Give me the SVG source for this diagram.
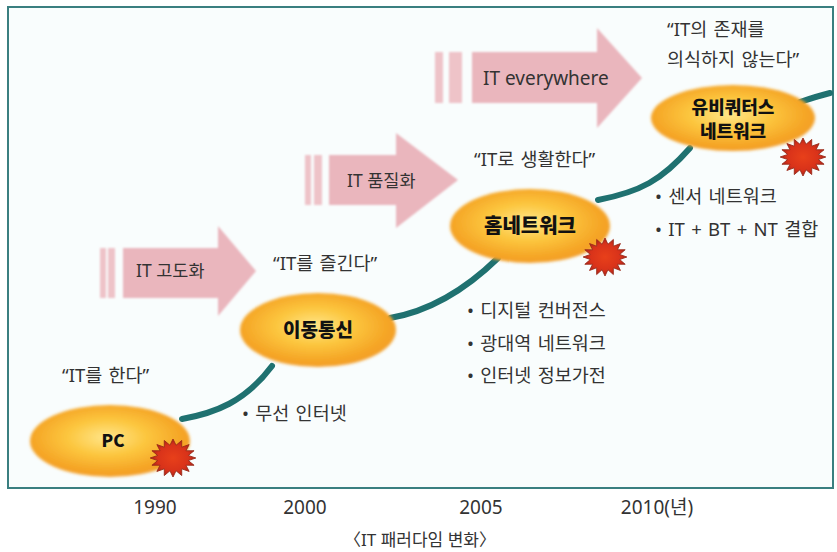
<svg xmlns="http://www.w3.org/2000/svg" width="837" height="552" viewBox="0 0 837 552">
<style>
.t{font-family:"Noto Sans","Noto Sans CJK KR",sans-serif;fill:#333;font-size:18.5px;word-spacing:1.5px}
.a{font-family:"Noto Sans","Noto Sans CJK KR",sans-serif;fill:#333;font-size:17.5px}
.b{font-family:"Noto Sans CJK KR",sans-serif;fill:#111;font-weight:900;text-anchor:middle}
.y{font-family:"Noto Sans","Noto Sans CJK KR",sans-serif;fill:#333;font-size:19px;text-anchor:middle}
.arr{fill:#eab6bd}
.bar{fill:#eec3c8}
.con{fill:none;stroke:#1f7170;stroke-width:6;stroke-linecap:round}
.node ellipse{fill:url(#og);filter:url(#soft)}
</style>
<defs>
<radialGradient id="og" cx="0.48" cy="0.45" r="0.55">
<stop offset="0" stop-color="#ffe68a"/>
<stop offset="0.45" stop-color="#fcc63e"/>
<stop offset="0.85" stop-color="#f5a526"/>
<stop offset="1" stop-color="#f39f2a"/>
</radialGradient>
<radialGradient id="sg" cx="0.5" cy="0.5" r="0.5">
<stop offset="0" stop-color="#e8401a"/>
<stop offset="0.7" stop-color="#d8321a"/>
<stop offset="1" stop-color="#a8201a"/>
</radialGradient>
<filter id="soft" x="-10%" y="-10%" width="120%" height="120%"><feGaussianBlur stdDeviation="1.4"/></filter>
<filter id="softa" x="-5%" y="-5%" width="110%" height="110%"><feGaussianBlur stdDeviation="1"/></filter>
<path id="star" d="M19,0 L12.75,2.54 L17.56,7.28 L10.8,7.23 L13.43,13.43 L7.23,10.8 L7.28,17.56 L2.54,12.75 L0,19 L-2.54,12.75 L-7.28,17.56 L-7.23,10.8 L-13.43,13.43 L-10.8,7.23 L-17.56,7.28 L-12.75,2.54 L-19,0 L-12.75,-2.54 L-17.56,-7.28 L-10.8,-7.23 L-13.43,-13.43 L-7.23,-10.8 L-7.28,-17.56 L-2.54,-12.75 L0,-19 L2.54,-12.75 L7.28,-17.56 L7.23,-10.8 L13.43,-13.43 L10.8,-7.23 L17.56,-7.28 L12.75,-2.54 Z" fill="url(#sg)" stroke="#9a2a18" stroke-width="0.8"/>
</defs>
<rect x="8" y="7" width="825" height="481" fill="#f9fdfd" stroke="#3a7f80" stroke-width="2"/>
<g id="arrows" filter="url(#softa)">
<g id="arrow1">
<rect class="bar" x="100" y="248" width="6" height="50"/>
<rect class="bar" x="108" y="248" width="7" height="50"/>
<polygon class="arr" points="123,248 218,248 218,226 256,271 218,316 218,298 123,298"/>
</g>
<g id="arrow2">
<rect class="bar" x="305" y="155" width="6" height="50"/>
<rect class="bar" x="314" y="155" width="8" height="50"/>
<polygon class="arr" points="329,155 396,155 396,133 458,180 396,228 396,205 329,205"/>
</g>
<g id="arrow3">
<rect class="bar" x="435" y="52" width="8" height="51"/>
<rect class="bar" x="449" y="52" width="13" height="51"/>
<polygon class="arr" points="472,52 597,52 597,28 642,78 597,128 597,103 472,103"/>
</g>
</g>
<text class="a" x="136" y="277">IT 고도화</text>
<text class="a" x="347" y="187">IT 품질화</text>
<text class="a" x="483" y="85" style="font-size:19px">IT everywhere</text>
<g id="connectors">
<path class="con" d="M182 419 C215 413 245 402 272 366"/>
<path class="con" d="M390 318 C425 312 460 295 498 258"/>
<path class="con" d="M598 200 C640 192 662 180 690 148"/>
<path class="con" d="M800 102 C812 98 822 95 830 93"/>
</g>
<g id="node-pc" class="node">
<ellipse cx="110" cy="441" rx="80" ry="36"/>
<use href="#star" transform="translate(173 458) scale(1.2 1)"/>
<text class="b" x="113" y="447" style="font-size:17px">PC</text>
</g>
<g id="node-mobile" class="node">
<ellipse cx="318" cy="330" rx="78" ry="37"/>
<text class="b" x="318" y="337" style="font-size:19px">이동통신</text>
</g>
<g id="node-home" class="node">
<ellipse cx="530" cy="226" rx="80" ry="37"/>
<use href="#star" transform="translate(605 257) scale(1.15 1)"/>
<text class="b" x="530" y="233" style="font-size:20px">홈네트워크</text>
</g>
<g id="node-ubi" class="node">
<ellipse cx="733" cy="118" rx="82" ry="33"/>
<use href="#star" transform="translate(803 157) scale(1.2 1)"/>
<text class="b" x="733" y="114" style="font-size:18px">유비쿼터스</text>
<text class="b" x="733" y="138" style="font-size:18px">네트워크</text>
</g>
<text class="t" x="62" y="382">“IT를 한다”</text>
<text class="t" x="273" y="270">“IT를 즐긴다”</text>
<text class="t" x="474" y="166">“IT로 생활한다”</text>
<text class="t" x="667" y="36">“IT의 존재를</text>
<text class="t" x="667" y="66">의식하지 않는다”</text>
<text class="t" x="242" y="420">• 무선 인터넷</text>
<text class="t" x="467" y="317">• 디지털 컨버전스</text>
<text class="t" x="467" y="350">• 광대역 네트워크</text>
<text class="t" x="467" y="382">• 인터넷 정보가전</text>
<text class="t" x="655" y="203">• 센서 네트워크</text>
<text class="t" x="655" y="236">• IT + BT + NT 결합</text>
<text class="y" x="155" y="514">1990</text>
<text class="y" x="305" y="514">2000</text>
<text class="y" x="481" y="514">2005</text>
<text class="y" x="657" y="514">2010(년)</text>
<text class="y" x="420" y="546" style="font-size:17px">〈IT 패러다임 변화〉</text>
</svg>
